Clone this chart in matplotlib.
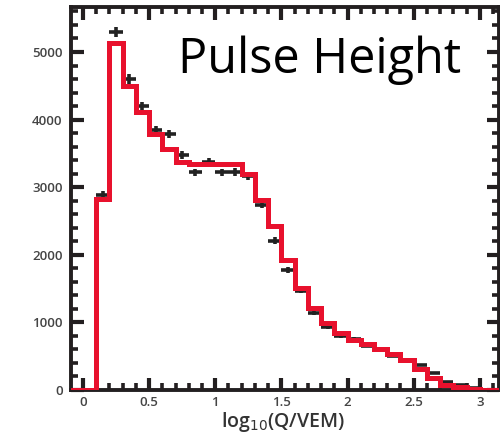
import numpy as np
import matplotlib
matplotlib.use("Agg")
import matplotlib.pyplot as plt
from matplotlib.ticker import MultipleLocator

# Bin edges in log10(Q/VEM), first bin runs from the left edge
edges = [-0.1] + [round(0.1 * i, 1) for i in range(1, 33)]

# Simulation (red histogram), one value per bin
sim_counts = [0, 2820, 5140, 4490, 4120, 3790, 3560, 3370, 3340, 3350, 3350,
              3350, 3190, 2810, 2430, 1930, 1510, 1210, 990, 845, 740,
              680, 610, 540, 444, 310, 178, 80, 45, 15, 0, 0]

# Data points (black crosses) at bin centres
data_x = [0.15, 0.25, 0.35, 0.45, 0.55, 0.65, 0.75, 0.85, 0.95, 1.05,
          1.15, 1.25, 1.35, 1.45, 1.55, 1.65, 1.75, 1.85, 1.95, 2.05,
          2.15, 2.25, 2.35, 2.45, 2.55, 2.65, 2.75, 2.85, 2.95, 3.05]
data_y = [2890, 5290, 4600, 4200, 3840, 3790, 3480, 3220, 3380, 3220,
          3230, 3170, 2740, 2210, 1775, 1470, 1145, 935, 800, 755,
          655, 590, 510, 440, 370, 250, 120, 72, 28, 5]

fig = plt.figure(figsize=(5.0, 4.4), dpi=100)
ax = fig.add_axes([0.142, 0.1136, 0.856, 0.8705])

ax.errorbar(data_x, data_y, xerr=0.05, yerr=np.sqrt(data_y), fmt="none",
            ecolor="#222222", elinewidth=2.6, capsize=0, zorder=2)
ax.stairs(sim_counts, edges, color="#e8112d", linewidth=3.6, zorder=3)

ax.set_xlim(-0.09, 3.145)
ax.set_ylim(0, 5666)

ax.xaxis.set_major_locator(MultipleLocator(0.5))
ax.xaxis.set_minor_locator(MultipleLocator(0.1))
ax.yaxis.set_major_locator(MultipleLocator(1000))
ax.yaxis.set_minor_locator(MultipleLocator(200))
ax.set_xticks([0, 0.5, 1, 1.5, 2, 2.5, 3])
ax.set_xticklabels(["0", "0.5", "1", "1.5", "2", "2.5", "3"])

ax.tick_params(which="both", direction="in", top=True, right=True,
               color="#231f20", labelsize=9.5, labelcolor="#444444")
ax.tick_params(which="major", length=9, width=3)
ax.tick_params(which="minor", length=5, width=2.6)
ax.tick_params(axis="x", pad=4)
ax.tick_params(axis="y", pad=6)
for s in ax.spines.values():
    s.set_linewidth(2.8)
    s.set_color("#231f20")

for lab in ax.get_xticklabels() + ax.get_yticklabels():
    lab.set_family("Open Sans")
    lab.set_fontweight("semibold")

ax.set_xlabel("log$_{10}$(Q/VEM)", fontsize=14, color="#333333",
              family="Open Sans", fontweight="semibold", labelpad=0)
ax.xaxis.set_label_coords(0.495, -0.052, transform=ax.transAxes)
ax.xaxis.label.set_va("top")

ax.text(0.25, 0.925, "Pulse Height", transform=ax.transAxes, fontsize=35,
        family="Open Sans", color="black", va="top", ha="left")

fig.savefig("out.png", dpi=100)
